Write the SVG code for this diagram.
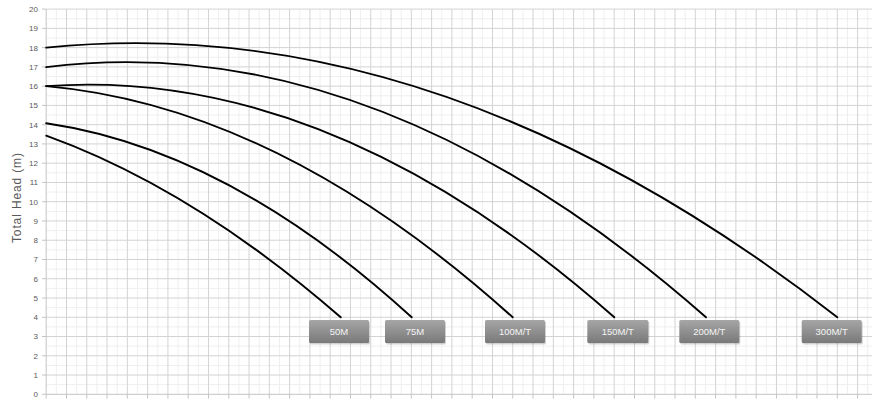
<svg xmlns="http://www.w3.org/2000/svg" width="872" height="403" viewBox="0 0 872 403">
<style>
.minor{stroke:#efefef;stroke-width:1;fill:none}
.major{stroke:#d3d3d3;stroke-width:1;fill:none}
.axis{stroke:#c4c4c4;stroke-width:1;fill:none}
.ytick{font-family:"Liberation Sans",Arial,sans-serif;font-size:8px;fill:#595959;text-anchor:end}
.ytitle{font-family:"Liberation Sans",Arial,sans-serif;font-size:12px;fill:#595959;text-anchor:middle}
.curve{stroke:#000;stroke-width:1.9;fill:none;stroke-linecap:round;stroke-linejoin:round}
.box{fill:url(#boxg)}
.shadow{fill:#000;opacity:0.18}
.lbl{font-family:"Liberation Sans",Arial,sans-serif;font-size:9.5px;fill:#f4f4f4;text-anchor:middle}
</style>
<defs>
<linearGradient id="boxg" x1="0" y1="0" x2="0" y2="1">
<stop offset="0" stop-color="#a6a6a6"/>
<stop offset="1" stop-color="#797979"/>
</linearGradient>
</defs>
<rect width="872" height="403" fill="#fff"/>
<g id="grid">
<path class="minor" d="M46.2,384.67H872M46.2,365.41H872M46.2,346.15H872M46.2,326.89H872M46.2,307.63H872M46.2,288.37H872M46.2,269.11H872M46.2,249.85H872M46.2,230.59H872M46.2,211.33H872M46.2,192.07H872M46.2,172.81H872M46.2,153.55H872M46.2,134.29H872M46.2,115.03H872M46.2,95.77H872M46.2,76.51H872M46.2,57.25H872M46.2,37.99H872M46.2,18.73H872"/>
<path class="minor" d="M56.34,9.1V394.3M76.63,9.1V394.3M96.91,9.1V394.3M117.2,9.1V394.3M137.48,9.1V394.3M157.77,9.1V394.3M178.05,9.1V394.3M198.34,9.1V394.3M218.62,9.1V394.3M238.91,9.1V394.3M259.19,9.1V394.3M279.48,9.1V394.3M299.76,9.1V394.3M320.05,9.1V394.3M340.33,9.1V394.3M360.62,9.1V394.3M380.9,9.1V394.3M401.19,9.1V394.3M421.47,9.1V394.3M441.76,9.1V394.3M462.04,9.1V394.3M482.33,9.1V394.3M502.61,9.1V394.3M522.9,9.1V394.3M543.18,9.1V394.3M563.47,9.1V394.3M583.75,9.1V394.3M604.04,9.1V394.3M624.32,9.1V394.3M644.61,9.1V394.3M664.89,9.1V394.3M685.18,9.1V394.3M705.46,9.1V394.3M725.75,9.1V394.3M746.03,9.1V394.3M766.32,9.1V394.3M786.6,9.1V394.3M806.89,9.1V394.3M827.17,9.1V394.3M847.46,9.1V394.3M867.74,9.1V394.3"/>
<path class="major" d="M46.2,375.04H872M46.2,355.78H872M46.2,336.52H872M46.2,317.26H872M46.2,298H872M46.2,278.74H872M46.2,259.48H872M46.2,240.22H872M46.2,220.96H872M46.2,201.7H872M46.2,182.44H872M46.2,163.18H872M46.2,143.92H872M46.2,124.66H872M46.2,105.4H872M46.2,86.14H872M46.2,66.88H872M46.2,47.62H872M46.2,28.36H872M46.2,9.1H872"/>
<path class="major" d="M66.49,9.1V394.3M86.77,9.1V394.3M107.06,9.1V394.3M127.34,9.1V394.3M147.63,9.1V394.3M167.91,9.1V394.3M188.2,9.1V394.3M208.48,9.1V394.3M228.77,9.1V394.3M249.05,9.1V394.3M269.34,9.1V394.3M289.62,9.1V394.3M309.91,9.1V394.3M330.19,9.1V394.3M350.48,9.1V394.3M370.76,9.1V394.3M391.05,9.1V394.3M411.33,9.1V394.3M431.62,9.1V394.3M451.9,9.1V394.3M472.19,9.1V394.3M492.47,9.1V394.3M512.76,9.1V394.3M533.04,9.1V394.3M553.33,9.1V394.3M573.61,9.1V394.3M593.9,9.1V394.3M614.18,9.1V394.3M634.47,9.1V394.3M654.75,9.1V394.3M675.04,9.1V394.3M695.32,9.1V394.3M715.61,9.1V394.3M735.89,9.1V394.3M756.18,9.1V394.3M776.46,9.1V394.3M796.75,9.1V394.3M817.03,9.1V394.3M837.32,9.1V394.3M857.6,9.1V394.3"/>
</g>
<g id="axes">
<path class="axis" d="M46.2,9.1V394.3M46.2,394.3H872"/>
<path class="axis" d="M46.2,394.3V398.5M66.49,394.3V398.5M86.77,394.3V398.5M107.06,394.3V398.5M127.34,394.3V398.5M147.63,394.3V398.5M167.91,394.3V398.5M188.2,394.3V398.5M208.48,394.3V398.5M228.77,394.3V398.5M249.05,394.3V398.5M269.34,394.3V398.5M289.62,394.3V398.5M309.91,394.3V398.5M330.19,394.3V398.5M350.48,394.3V398.5M370.76,394.3V398.5M391.05,394.3V398.5M411.33,394.3V398.5M431.62,394.3V398.5M451.9,394.3V398.5M472.19,394.3V398.5M492.47,394.3V398.5M512.76,394.3V398.5M533.04,394.3V398.5M553.33,394.3V398.5M573.61,394.3V398.5M593.9,394.3V398.5M614.18,394.3V398.5M634.47,394.3V398.5M654.75,394.3V398.5M675.04,394.3V398.5M695.32,394.3V398.5M715.61,394.3V398.5M735.89,394.3V398.5M756.18,394.3V398.5M776.46,394.3V398.5M796.75,394.3V398.5M817.03,394.3V398.5M837.32,394.3V398.5M857.6,394.3V398.5"/>
<path class="axis" d="M42,394.3H46.2M42,375.04H46.2M42,355.78H46.2M42,336.52H46.2M42,317.26H46.2M42,298H46.2M42,278.74H46.2M42,259.48H46.2M42,240.22H46.2M42,220.96H46.2M42,201.7H46.2M42,182.44H46.2M42,163.18H46.2M42,143.92H46.2M42,124.66H46.2M42,105.4H46.2M42,86.14H46.2M42,66.88H46.2M42,47.62H46.2M42,28.36H46.2M42,9.1H46.2"/>
<g id="y-labels">
<text class="ytick" x="38" y="397.2">0</text>
<text class="ytick" x="38" y="377.9">1</text>
<text class="ytick" x="38" y="358.7">2</text>
<text class="ytick" x="38" y="339.4">3</text>
<text class="ytick" x="38" y="320.2">4</text>
<text class="ytick" x="38" y="300.9">5</text>
<text class="ytick" x="38" y="281.6">6</text>
<text class="ytick" x="38" y="262.4">7</text>
<text class="ytick" x="38" y="243.1">8</text>
<text class="ytick" x="38" y="223.9">9</text>
<text class="ytick" x="38" y="204.6">10</text>
<text class="ytick" x="38" y="185.3">11</text>
<text class="ytick" x="38" y="166.1">12</text>
<text class="ytick" x="38" y="146.8">13</text>
<text class="ytick" x="38" y="127.6">14</text>
<text class="ytick" x="38" y="108.3">15</text>
<text class="ytick" x="38" y="89">16</text>
<text class="ytick" x="38" y="69.8">17</text>
<text class="ytick" x="38" y="50.5">18</text>
<text class="ytick" x="38" y="31.3">19</text>
<text class="ytick" x="38" y="12">20</text>
</g>
<text class="ytitle" transform="translate(21,198) rotate(-90)" textLength="90" lengthAdjust="spacing">Total Head (m)</text>
</g>
<g id="curves">
<path id="c-50M" class="curve" d="M46.2,135.7Q193,188.7 340.7,317.3"/>
<path id="c-75M" class="curve" d="M46.2,123.3Q228.5,149.9 411.7,317.3"/>
<path id="c-100MT" class="curve" d="M46.2,86.1Q279,106.8 512.7,317.3"/>
<path id="c-150MT" class="curve" d="M46.2,86.1Q329.8,65.9 614.3,317.3"/>
<path id="c-200MT" class="curve" d="M46.2,67.1Q375.7,26.4 706,317.3"/>
<path id="c-300MT" class="curve" d="M46.2,47.6Q441.3,8 837.3,317.3"/>
</g>
<g id="label-50M">
<rect class="shadow" x="310" y="321.5" width="60" height="23" rx="1.5"/>
<rect class="box" x="309" y="320" width="60" height="23" rx="1.5"/>
<text class="lbl" x="339" y="335">50M</text>
</g>
<g id="label-75M">
<rect class="shadow" x="386" y="321.5" width="60" height="23" rx="1.5"/>
<rect class="box" x="385" y="320" width="60" height="23" rx="1.5"/>
<text class="lbl" x="415" y="335">75M</text>
</g>
<g id="label-100MT">
<rect class="shadow" x="486" y="321.5" width="60" height="23" rx="1.5"/>
<rect class="box" x="485" y="320" width="60" height="23" rx="1.5"/>
<text class="lbl" x="515" y="335">100M/T</text>
</g>
<g id="label-150MT">
<rect class="shadow" x="588.3" y="321.5" width="61" height="23" rx="1.5"/>
<rect class="box" x="587.3" y="320" width="61" height="23" rx="1.5"/>
<text class="lbl" x="617.8" y="335">150M/T</text>
</g>
<g id="label-200MT">
<rect class="shadow" x="680.3" y="321.5" width="60" height="23" rx="1.5"/>
<rect class="box" x="679.3" y="320" width="60" height="23" rx="1.5"/>
<text class="lbl" x="709.3" y="335">200M/T</text>
</g>
<g id="label-300MT">
<rect class="shadow" x="802.7" y="321.5" width="60" height="23" rx="1.5"/>
<rect class="box" x="801.7" y="320" width="60" height="23" rx="1.5"/>
<text class="lbl" x="831.7" y="335">300M/T</text>
</g>
</svg>
